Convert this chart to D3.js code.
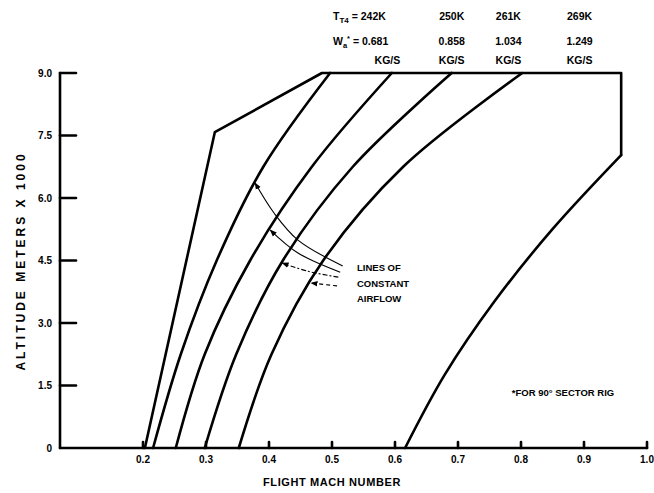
<!DOCTYPE html>
<html>
<head>
<meta charset="utf-8">
<script src="https://cdn.jsdelivr.net/npm/d3@7/dist/d3.min.js"></script>
<style>
  html, body { margin:0; padding:0; background:#fff; }
  svg { display:block; font-family:"Liberation Sans", Arial, sans-serif; font-weight:bold; }
  .ink { fill:none; stroke:#000; stroke-width:2.6; stroke-linejoin:round; stroke-linecap:round; }
  .lead { fill:none; stroke:#000; stroke-width:1.1; }
</style>
</head>
<body>
<svg id="chart" width="654" height="493"></svg>
<script>
// --- data (Mach, altitude in km) ---------------------------------------------
const xTicks = [0.2, 0.3, 0.4, 0.5, 0.6, 0.7, 0.8, 0.9, 1.0];
const xTickLabels = ['0.2', '0.3', '0.4', '0.5', '0.6', '0.7', '0.8', '0.9', '1.0'];
const yTicks = [0, 1.5, 3.0, 4.5, 6.0, 7.5, 9.0];
const yTickLabels = ['0', '1.5', '3.0', '4.5', '6.0', '7.5', '9.0'];

// operating envelope: left edge, ceiling, right edge
const envelope = [[0.203, 0], [0.314, 7.58], [0.484, 9.0], [0.959, 9.0], [0.959, 7.03]];
// right (high Mach) boundary curve
const rightBoundary = [[0.616, 0], [0.679, 1.76], [0.758, 3.52], [0.851, 5.27], [0.959, 7.03]];

// lines of constant airflow
const temps = ['242K', '250K', '261K', '269K'];
const flows = ['0.681', '0.858', '1.034', '1.249'];
const airflowA = [[0.216, 0], [0.260, 2.25], [0.317, 4.5], [0.391, 6.75], [0.497, 9.0]];
const airflowB = [[0.252, 0], [0.298, 2.25], [0.370, 4.5], [0.468, 6.75], [0.595, 9.0]];
const airflowC = [[0.298, 0], [0.348, 2.25], [0.422, 4.5], [0.533, 6.75], [0.690, 9.0]];
const airflowD = [[0.352, 0], [0.404, 2.25], [0.486, 4.5], [0.613, 6.75], [0.802, 9.0]];
const airflows = [airflowA, airflowB, airflowC, airflowD];
const labelMach = [0.588, 0.690, 0.780, 0.893];

// leader arrows from the note to each airflow line
const leaders = [
  [[0.517, 4.37], [0.446, 4.99], [0.408, 5.64], [0.378, 6.36]],
  [[0.513, 4.22], [0.446, 4.68], [0.402, 5.23]],
  [[0.510, 4.10], [0.462, 4.24], [0.421, 4.44]],
  [[0.508, 3.89], [0.467, 3.96]]
];
const leaderDash = [null, null, '5,2,2,2', '4,3'];

// --- layout ------------------------------------------------------------------
const svg = d3.select('#chart');
const x = d3.scaleLinear().domain([0, 1]).range([17, 647]);
const y = d3.scaleLinear().domain([0, 9]).range([448, 73]);
const axisX0 = 60;

const line = d3.line().x(d => x(d[0])).y(d => y(d[1]));
const smooth = d3.line().x(d => x(d[0])).y(d => y(d[1])).curve(d3.curveCatmullRom.alpha(0.5));
const leadLine = d3.line().x(d => x(d[0])).y(d => y(d[1])).curve(d3.curveCatmullRom);

svg.append('defs').append('marker')
  .attr('id', 'arr').attr('viewBox', '0 0 10 10')
  .attr('refX', 9).attr('refY', 5)
  .attr('markerWidth', 7).attr('markerHeight', 7)
  .attr('markerUnits', 'userSpaceOnUse')
  .attr('orient', 'auto')
  .append('path').attr('d', 'M0,1L10,5L0,9Z').attr('fill', '#000');

// --- axes --------------------------------------------------------------------
const ax = svg.append('g');
ax.append('line').attr('class', 'ink')
  .attr('x1', axisX0).attr('x2', axisX0).attr('y1', y(9)).attr('y2', y(0));
ax.append('line').attr('class', 'ink')
  .attr('x1', axisX0).attr('x2', x(1.0)).attr('y1', y(0)).attr('y2', y(0));

// y ticks point inward
ax.selectAll('line.yt').data(yTicks.filter(d => d > 0)).join('line')
  .attr('class', 'ink yt').attr('stroke-width', 2)
  .attr('x1', axisX0).attr('x2', axisX0 + 16)
  .attr('y1', d => y(d)).attr('y2', d => y(d));
ax.selectAll('text.yl').data(yTicks).join('text')
  .attr('class', 'yl').attr('x', 52).attr('y', d => y(d) + 3.5)
  .attr('text-anchor', 'end').attr('font-size', 10)
  .text((d, i) => yTickLabels[i]);

ax.selectAll('line.xt').data(xTicks).join('line')
  .attr('class', 'ink xt').attr('stroke-width', 1.8)
  .attr('x1', d => x(d)).attr('x2', d => x(d))
  .attr('y1', y(0)).attr('y2', y(0) - 6);
ax.selectAll('text.xl').data(xTicks).join('text')
  .attr('class', 'xl').attr('x', d => x(d)).attr('y', y(0) + 15)
  .attr('text-anchor', 'middle').attr('font-size', 10)
  .text((d, i) => xTickLabels[i]);

svg.append('text')
  .attr('transform', `translate(25,261) rotate(-90)`)
  .attr('text-anchor', 'middle').attr('font-size', 12).attr('letter-spacing', 3)
  .text('ALTITUDE METERS X 1000');
svg.append('text')
  .attr('x', 332).attr('y', 486)
  .attr('text-anchor', 'middle').attr('font-size', 11).attr('letter-spacing', 0.6)
  .text('FLIGHT MACH NUMBER');

// --- envelope & airflow lines ------------------------------------------------
svg.append('path').attr('class', 'ink').attr('d', line(envelope));
svg.append('path').attr('class', 'ink').attr('d', smooth(rightBoundary));
svg.selectAll('path.flow').data(airflows).join('path')
  .attr('class', 'ink flow').attr('d', d => smooth(d));

// --- leaders & note ----------------------------------------------------------
svg.selectAll('path.lead').data(leaders).join('path')
  .attr('class', 'lead')
  .attr('stroke-dasharray', (d, i) => leaderDash[i])
  .attr('marker-end', 'url(#arr)')
  .attr('d', d => leadLine(d));

const note = svg.append('text').attr('x', 357).attr('y', 271).attr('font-size', 9.5);
['LINES OF', 'CONSTANT', 'AIRFLOW'].forEach((t, i) => {
  note.append('tspan').attr('x', 357).attr('dy', i ? 15.5 : 0).text(t);
});

svg.append('text').attr('x', 563).attr('y', 396)
  .attr('text-anchor', 'middle').attr('font-size', 9.5)
  .text('*FOR 90\u00B0 SECTOR RIG');

// --- header labels -----------------------------------------------------------
const hdr = svg.append('g').attr('font-size', 10.5);
const t0 = hdr.append('text').attr('x', 333).attr('y', 20);
t0.append('tspan').text('T');
t0.append('tspan').attr('font-size', 8).attr('dy', 3).text('T4');
t0.append('tspan').attr('dy', -3).text(' = ' + temps[0]);
const w0 = hdr.append('text').attr('x', 333).attr('y', 45);
w0.append('tspan').text('W');
w0.append('tspan').attr('font-size', 7.5).attr('dy', 3).text('a');
w0.append('tspan').attr('font-size', 7.5).attr('dy', -7).text('*');
w0.append('tspan').attr('dy', 4).text(' = ' + flows[0]);

hdr.selectAll('text.tk').data(temps.slice(1)).join('text')
  .attr('class', 'tk').attr('x', (d, i) => x(labelMach[i + 1])).attr('y', 20)
  .attr('text-anchor', 'middle').text(d => d);
hdr.selectAll('text.fl').data(flows.slice(1)).join('text')
  .attr('class', 'fl').attr('x', (d, i) => x(labelMach[i + 1])).attr('y', 45)
  .attr('text-anchor', 'middle').text(d => d);
hdr.selectAll('text.kg').data(flows).join('text')
  .attr('class', 'kg').attr('x', (d, i) => x(labelMach[i])).attr('y', 64)
  .attr('text-anchor', 'middle').text('KG/S');
</script>
</body>
</html>
